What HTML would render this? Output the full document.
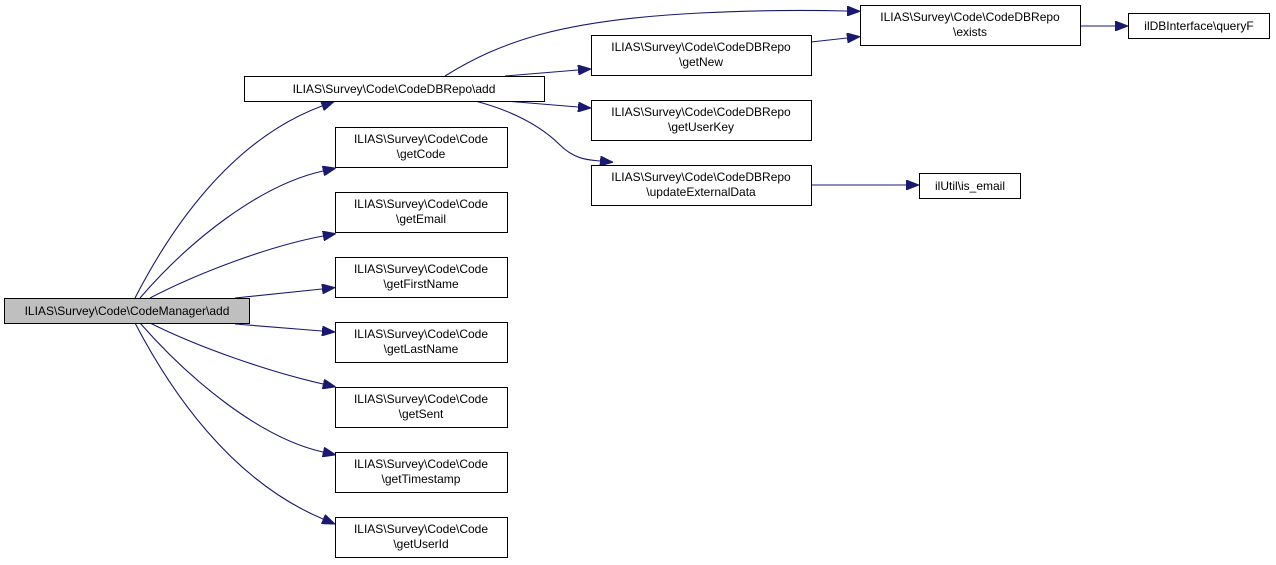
<!DOCTYPE html>
<html><head><meta charset="utf-8"><style>
html,body{margin:0;padding:0;background:#fff;}
svg{display:block;}
text{font-family:"Liberation Sans",Arial,sans-serif;font-size:12px;fill:#000;}
</style></head><body>
<svg width="1276" height="565" viewBox="0 0 1276 565" xmlns="http://www.w3.org/2000/svg">
<defs>
<marker id="a" markerWidth="13" markerHeight="10" refX="0" refY="5" orient="auto" markerUnits="userSpaceOnUse">
<path d="M0,0 L13,5 L0,10 Z" fill="#191970" stroke="#191970"/>
</marker>
</defs>
<g fill="none" stroke="#191970" stroke-width="1.1" marker-end="url(#a)">
<path d="M135,298 C170,230 230,140 322,106"/>
<path d="M140,298 C190,240 260,185 323,171"/>
<path d="M150,298 C200,272 270,246 323,236"/>
<path d="M235,298 L322,289"/>
<path d="M235,324 L322,331"/>
<path d="M150,323 C200,348 270,372 323,384"/>
<path d="M140,323 C190,380 260,438 323,452"/>
<path d="M135,323 C170,390 230,480 323,519"/>
<path d="M445,76 C500,42 560,20 700,13 C760,10 810,10 847,11"/>
<path d="M505,76 L578,70"/>
<path d="M505,101 L578,107"/>
<path d="M475,101 C510,110 540,125 560,145 C575,160 590,160 600,161"/>
<path d="M811,42 L847,38"/>
<path d="M1080,26 L1115,26"/>
<path d="M811,185 L906,185"/>
</g>
<g stroke="#000" stroke-width="1">
<rect x="4.5" y="298.5" width="245" height="25" fill="#bfbfbf"/>
<rect x="244.5" y="76.5" width="300" height="25" fill="#fff"/>
<rect x="335.5" y="127.5" width="172" height="40" fill="#fff"/>
<rect x="335.5" y="192.5" width="172" height="40" fill="#fff"/>
<rect x="335.5" y="257.5" width="172" height="40" fill="#fff"/>
<rect x="335.5" y="322.5" width="172" height="40" fill="#fff"/>
<rect x="335.5" y="387.5" width="172" height="40" fill="#fff"/>
<rect x="335.5" y="452.5" width="172" height="40" fill="#fff"/>
<rect x="335.5" y="517.5" width="172" height="40" fill="#fff"/>
<rect x="591.5" y="35.5" width="220" height="40" fill="#fff"/>
<rect x="591.5" y="100.5" width="220" height="40" fill="#fff"/>
<rect x="591.5" y="165.5" width="220" height="40" fill="#fff"/>
<rect x="860.5" y="5.5" width="220" height="40" fill="#fff"/>
<rect x="1128.5" y="13.5" width="141" height="25" fill="#fff"/>
<rect x="919.5" y="173.5" width="101" height="25" fill="#fff"/>
</g>
<g text-anchor="middle">
<text x="127" y="315">ILIAS\Survey\Code\CodeManager\add</text>
<text x="394" y="93">ILIAS\Survey\Code\CodeDBRepo\add</text>
<text x="421" y="143">ILIAS\Survey\Code\Code</text><text x="421" y="158">\getCode</text>
<text x="421" y="208">ILIAS\Survey\Code\Code</text><text x="421" y="223">\getEmail</text>
<text x="421" y="273">ILIAS\Survey\Code\Code</text><text x="421" y="288">\getFirstName</text>
<text x="421" y="338">ILIAS\Survey\Code\Code</text><text x="421" y="353">\getLastName</text>
<text x="421" y="403">ILIAS\Survey\Code\Code</text><text x="421" y="418">\getSent</text>
<text x="421" y="468">ILIAS\Survey\Code\Code</text><text x="421" y="483">\getTimestamp</text>
<text x="421" y="533">ILIAS\Survey\Code\Code</text><text x="421" y="548">\getUserId</text>
<text x="701" y="51">ILIAS\Survey\Code\CodeDBRepo</text><text x="701" y="66">\getNew</text>
<text x="701" y="116">ILIAS\Survey\Code\CodeDBRepo</text><text x="701" y="131">\getUserKey</text>
<text x="701" y="181">ILIAS\Survey\Code\CodeDBRepo</text><text x="701" y="196">\updateExternalData</text>
<text x="970" y="21">ILIAS\Survey\Code\CodeDBRepo</text><text x="970" y="36">\exists</text>
<text x="1199" y="30">ilDBInterface\queryF</text>
<text x="970" y="190">ilUtil\is_email</text>
</g>
</svg>
</body></html>
